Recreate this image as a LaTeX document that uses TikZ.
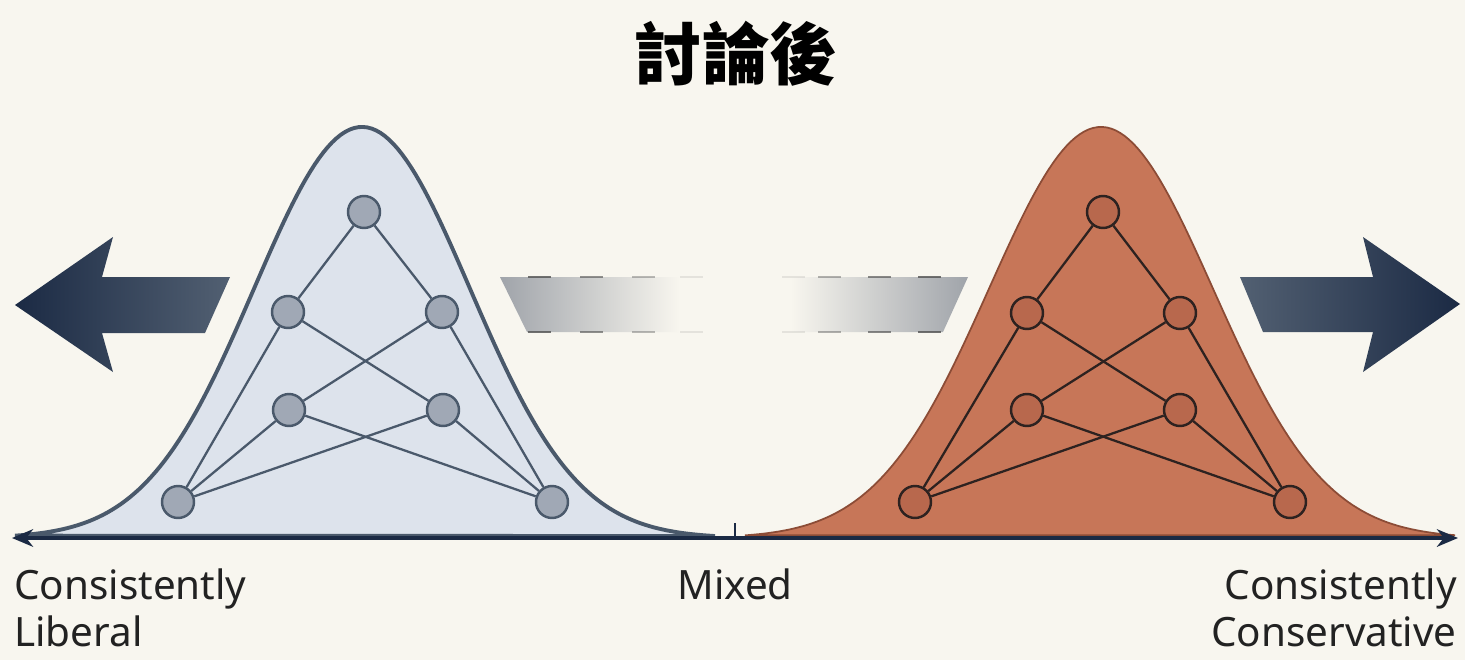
\documentclass[tikz,border=0pt]{standalone}
\usepackage{fontspec}
\setmainfont{Noto Sans}
\newfontfamily\cjkfont{Noto Sans CJK TC}
\usetikzlibrary{arrows.meta}
\definecolor{bgcream}{RGB}{248,246,239}
\definecolor{navy}{RGB}{27,42,68}
\definecolor{slate}{RGB}{82,96,114}
\definecolor{libfill}{RGB}{221,227,236}
\definecolor{libline}{RGB}{74,89,107}
\definecolor{libnode}{RGB}{160,168,181}
\definecolor{consfill}{RGB}{199,118,88}
\definecolor{consline}{RGB}{140,76,54}
\definecolor{consnode}{RGB}{184,104,77}
\definecolor{consedge}{RGB}{45,34,32}
\definecolor{bargray}{RGB}{160,164,170}
\definecolor{labeltext}{RGB}{34,34,34}

\begin{document}
\begin{tikzpicture}[x=0.02cm,y=-0.02cm,
  lnode/.style={circle,draw=libline,fill=libnode,line width=1.4pt,
    minimum size=0.64cm,inner sep=0pt},
  rnode/.style={circle,draw=consedge,fill=consnode,line width=1.4pt,
    minimum size=0.64cm,inner sep=0pt},
  ledge/.style={libline,line width=1.3pt},
  redge/.style={consedge,line width=1.3pt},
  dashbar/.style={black!65,line width=1.4pt},
  axisline/.style={navy,line width=2.4pt,arrows={Stealth[length=12pt,width=10pt]-Stealth[length=12pt,width=10pt]}},
  axislabel/.style={font=\fontsize{23}{27}\selectfont,text=labeltext,inner sep=0pt}
]
% ---- background and frame ----
\fill[bgcream] (0,0) rectangle (1465,660);
\useasboundingbox (0,0) rectangle (1465,660);

% ---- title ----
\node[font=\cjkfont\bfseries\fontsize{38.5}{40}\selectfont] (title) at (736,54) {討論後};

% ---- the two distributions ----
\filldraw[fill=libfill,draw=libline,line width=2.2pt]
  plot[domain=15:715,samples=160] (\x,{538-411*exp(-((\x-362)/108)^2/2)}) -- cycle;
\filldraw[fill=consfill,draw=consline,line width=1pt]
  plot[domain=745:1455,samples=160] (\x,{538-411*exp(-((\x-1101)/112)^2/2)}) -- cycle;

% ---- left network ----
\node[lnode] (l1) at (364,212) {};
\node[lnode] (l2) at (288,312) {};
\node[lnode] (l3) at (442,312) {};
\node[lnode] (l4) at (289,410) {};
\node[lnode] (l5) at (443,410) {};
\node[lnode] (l6) at (178,502) {};
\node[lnode] (l7) at (552,502) {};
\foreach \a/\b in {1/2,1/3,2/5,3/4,2/6,3/7,4/6,4/7,5/6,5/7}
  \draw[ledge] (l\a) -- (l\b);

% ---- right network ----
\node[rnode] (r1) at (1103,212) {};
\node[rnode] (r2) at (1027,313) {};
\node[rnode] (r3) at (1180,313) {};
\node[rnode] (r4) at (1027,410) {};
\node[rnode] (r5) at (1180,410) {};
\node[rnode] (r6) at (915,502) {};
\node[rnode] (r7) at (1290,502) {};
\foreach \a/\b in {1/2,1/3,2/5,3/4,2/6,3/7,4/6,4/7,5/6,5/7}
  \draw[redge] (r\a) -- (r\b);

% ---- faded middle bars ----
\shade[left color=bargray,right color=bgcream]
  (500,277) -- (680,277) -- (680,332) -- (527,332) -- cycle;
\shade[left color=bgcream,right color=bargray]
  (790,277) -- (968,277) -- (943,332) -- (790,332) -- cycle;
\foreach \x/\o in {528/0.85,580/0.65,632/0.4,680/0.12,
                   782/0.12,818/0.45,868/0.7,918/0.85}{
  \draw[dashbar,opacity=\o] (\x,277) -- ++(23,0);
  \draw[dashbar,opacity=\o] (\x,332) -- ++(23,0);
}

% ---- outward arrows ----
\shade[left color=navy,right color=slate]
  (15,305) -- (113,237) -- (102,277) -- (230,277) -- (205,333)
  -- (102,333) -- (113,372) -- cycle;
\shade[left color=slate,right color=navy]
  (1240,277) -- (1373,277) -- (1363,237) -- (1460,304) -- (1363,372)
  -- (1373,332) -- (1263,332) -- cycle;

% ---- axis ----
\coordinate (axl) at (12,538);
\coordinate (axr) at (1458,538);
\coordinate (mid) at (735,538);
\draw[axisline] (axl) -- (axr);
\draw[navy,line width=1.3pt] (mid) -- ++(0,-15);

% ---- axis labels ----
\node[axislabel,anchor=north west,align=left] (lib) at (14,568) {Consistently\\Liberal};
\node[axislabel,anchor=north] (mix) at (735,568) {Mixed};
\node[axislabel,anchor=north east,align=right] (con) at (1457,568) {Consistently\\Conservative};
\end{tikzpicture}
\end{document}
